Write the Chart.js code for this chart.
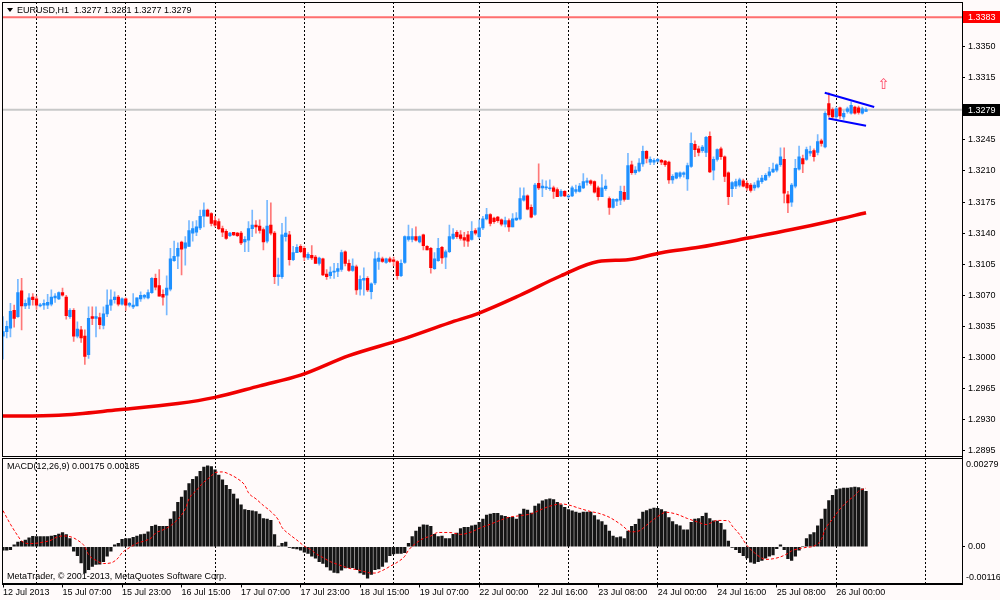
<!DOCTYPE html>
<html>
<head>
<meta charset="utf-8">
<script src="https://cdn.jsdelivr.net/npm/chart.js@4.4.1/dist/chart.umd.min.js"></script>
<style>
  html, body { margin: 0; padding: 0; background: #fffafa; }
  #wrap { width: 1000px; height: 600px; }
</style>
</head>
<body>
<div id="wrap"><canvas id="chart" width="1000" height="600"></canvas></div>
<script>
// EURUSD H1, 12 Jul 15:00 .. 26 Jul 08:00 2013, one entry per hourly bar
const symbol = 'EURUSD,H1';
const timeLabels = ['12 Jul 2013', '15 Jul 07:00', '15 Jul 23:00', '16 Jul 15:00', '17 Jul 07:00',
  '17 Jul 23:00', '18 Jul 15:00', '19 Jul 07:00', '22 Jul 00:00', '22 Jul 16:00', '23 Jul 08:00',
  '24 Jul 00:00', '24 Jul 16:00', '25 Jul 08:00', '26 Jul 00:00'];
const labelStep = 16; // one time label every 16 bars
const daySeparators = [9, 33, 57, 81, 105, 128, 152, 176, 200, 224, 248]; // bars that open a new day

const opens = [
  1.3024,1.3029,1.3033,1.3053,1.3046,1.3075,1.3058,1.3059,1.3068,1.3066,
  1.3058,1.3059,1.3059,1.3060,1.3067,1.3066,1.3073,1.3068,1.3046,1.3053,
  1.3024,1.3031,1.3024,1.3003,1.3046,1.3044,1.3045,1.3036,1.3049,1.3059,
  1.3065,1.3068,1.3060,1.3066,1.3059,1.3057,1.3058,1.3066,1.3068,1.3067,
  1.3073,1.3089,1.3081,1.3071,1.3070,1.3077,1.3109,1.3114,1.3130,1.3123,
  1.3125,1.3140,1.3141,1.3146,1.3159,1.3166,1.3162,1.3154,1.3153,1.3145,
  1.3142,1.3137,1.3141,1.3140,1.3140,1.3130,1.3132,1.3145,1.3149,1.3148,
  1.3144,1.3131,1.3149,1.3140,1.3091,1.3091,1.3136,1.3138,1.3110,1.3118,
  1.3125,1.3123,1.3112,1.3115,1.3113,1.3106,1.3111,1.3094,1.3092,1.3096,
  1.3097,1.3099,1.3119,1.3106,1.3098,1.3102,1.3077,1.3087,1.3089,1.3074,
  1.3084,1.3108,1.3111,1.3107,1.3111,1.3110,1.3108,1.3092,1.3107,1.3133,
  1.3133,1.3136,1.3130,1.3138,1.3125,1.3123,1.3100,1.3109,1.3124,1.3113,
  1.3119,1.3134,1.3141,1.3138,1.3135,1.3138,1.3133,1.3143,1.3136,1.3146,
  1.3156,1.3161,1.3157,1.3158,1.3155,1.3150,1.3154,1.3147,1.3155,1.3156,
  1.3177,1.3182,1.3169,1.3161,1.3196,1.3191,1.3191,1.3190,1.3191,1.3189,
  1.3182,1.3187,1.3181,1.3182,1.3187,1.3187,1.3191,1.3197,1.3199,1.3198,
  1.3191,1.3181,1.3190,1.3179,1.3169,1.3176,1.3177,1.3186,1.3178,1.3217,
  1.3208,1.3210,1.3218,1.3232,1.3220,1.3220,1.3221,1.3222,1.3221,1.3220,
  1.3200,1.3202,1.3204,1.3206,1.3201,1.3215,1.3240,1.3235,1.3233,1.3231,
  1.3249,1.3211,1.3223,1.3235,1.3226,1.3208,1.3190,1.3193,1.3194,1.3199,
  1.3196,1.3194,1.3191,1.3192,1.3198,1.3200,1.3205,1.3209,1.3211,1.3217,
  1.3223,1.3183,1.3175,1.3193,1.3212,1.3224,1.3223,1.3230,1.3233,1.3231,
  1.3244,1.3237,1.3286,1.3279,1.3271,1.3281,1.3271,1.3277,1.3275,1.3282,
  1.3281,1.3275,1.3277];
const highs = [
  1.3046,1.3041,1.3061,1.3059,1.3088,1.3089,1.3065,1.3072,1.3072,1.3069,
  1.3061,1.3065,1.3071,1.3076,1.3072,1.3074,1.3078,1.3070,1.3055,1.3055,
  1.3040,1.3035,1.3031,1.3057,1.3057,1.3057,1.3050,1.3057,1.3076,1.3076,
  1.3074,1.3070,1.3067,1.3067,1.3062,1.3072,1.3067,1.3074,1.3071,1.3076,
  1.3090,1.3094,1.3099,1.3076,1.3092,1.3123,1.3131,1.3129,1.3131,1.3136,
  1.3154,1.3153,1.3154,1.3166,1.3174,1.3167,1.3163,1.3159,1.3156,1.3148,
  1.3144,1.3141,1.3141,1.3141,1.3142,1.3136,1.3153,1.3166,1.3154,1.3155,
  1.3146,1.3177,1.3174,1.3142,1.3112,1.3151,1.3158,1.3142,1.3125,1.3127,
  1.3127,1.3125,1.3118,1.3126,1.3115,1.3113,1.3112,1.3099,1.3102,1.3106,
  1.3106,1.3121,1.3120,1.3110,1.3111,1.3104,1.3092,1.3101,1.3091,1.3084,
  1.3119,1.3118,1.3113,1.3112,1.3113,1.3113,1.3109,1.3110,1.3137,1.3149,
  1.3145,1.3147,1.3137,1.3139,1.3126,1.3124,1.3118,1.3134,1.3125,1.3121,
  1.3149,1.3145,1.3143,1.3143,1.3141,1.3142,1.3153,1.3145,1.3155,1.3159,
  1.3168,1.3162,1.3158,1.3159,1.3156,1.3158,1.3156,1.3162,1.3163,1.3191,
  1.3191,1.3183,1.3172,1.3196,1.3218,1.3200,1.3199,1.3200,1.3193,1.3191,
  1.3189,1.3188,1.3183,1.3193,1.3194,1.3196,1.3207,1.3202,1.3200,1.3199,
  1.3193,1.3206,1.3200,1.3181,1.3179,1.3179,1.3193,1.3193,1.3230,1.3221,
  1.3215,1.3224,1.3238,1.3233,1.3226,1.3224,1.3224,1.3223,1.3222,1.3221,
  1.3206,1.3208,1.3209,1.3209,1.3219,1.3253,1.3244,1.3238,1.3239,1.3249,
  1.3254,1.3226,1.3235,1.3237,1.3227,1.3209,1.3198,1.3201,1.3202,1.3201,
  1.3199,1.3196,1.3197,1.3202,1.3205,1.3207,1.3214,1.3219,1.3218,1.3236,
  1.3236,1.3187,1.3196,1.3223,1.3238,1.3228,1.3237,1.3238,1.3235,1.3251,
  1.3246,1.3277,1.3298,1.3281,1.3282,1.3282,1.3278,1.3282,1.3288,1.3283,
  1.3283,1.3282,1.3281];
const lows = [
  1.2998,1.3022,1.3023,1.3034,1.3045,1.3031,1.3055,1.3055,1.3059,1.3054,
  1.3057,1.3054,1.3055,1.3058,1.3062,1.3065,1.3069,1.3043,1.3044,1.3018,
  1.3022,1.3017,1.2992,1.2999,1.3037,1.3023,1.3032,1.3032,1.3046,1.3053,
  1.3061,1.3058,1.3059,1.3053,1.3057,1.3055,1.3058,1.3063,1.3066,1.3066,
  1.3072,1.3076,1.3069,1.3059,1.3048,1.3075,1.3108,1.3100,1.3093,1.3104,
  1.3125,1.3131,1.3137,1.3144,1.3147,1.3159,1.3148,1.3147,1.3144,1.3136,
  1.3133,1.3136,1.3137,1.3136,1.3127,1.3119,1.3119,1.3136,1.3140,1.3140,
  1.3121,1.3129,1.3138,1.3083,1.3081,1.3089,1.3131,1.3104,1.3109,1.3118,
  1.3118,1.3109,1.3110,1.3110,1.3106,1.3104,1.3092,1.3088,1.3089,1.3089,
  1.3091,1.3097,1.3103,1.3097,1.3097,1.3071,1.3070,1.3070,1.3074,1.3066,
  1.3082,1.3099,1.3107,1.3106,1.3107,1.3103,1.3088,1.3091,1.3106,1.3131,
  1.3130,1.3131,1.3129,1.3121,1.3121,1.3095,1.3099,1.3108,1.3106,1.3100,
  1.3118,1.3133,1.3134,1.3132,1.3125,1.3125,1.3132,1.3138,1.3134,1.3144,
  1.3155,1.3148,1.3151,1.3152,1.3148,1.3147,1.3142,1.3147,1.3154,1.3155,
  1.3176,1.3166,1.3157,1.3160,1.3189,1.3181,1.3189,1.3188,1.3179,1.3181,
  1.3181,1.3181,1.3179,1.3181,1.3185,1.3186,1.3190,1.3194,1.3194,1.3185,
  1.3177,1.3181,1.3188,1.3161,1.3168,1.3171,1.3172,1.3176,1.3178,1.3206,
  1.3206,1.3209,1.3215,1.3219,1.3217,1.3217,1.3220,1.3217,1.3215,1.3196,
  1.3196,1.3201,1.3202,1.3203,1.3188,1.3214,1.3226,1.3227,1.3231,1.3226,
  1.3208,1.3200,1.3221,1.3223,1.3198,1.3172,1.3181,1.3190,1.3192,1.3192,
  1.3188,1.3186,1.3188,1.3191,1.3196,1.3199,1.3203,1.3208,1.3209,1.3215,
  1.3174,1.3163,1.3170,1.3191,1.3211,1.3208,1.3222,1.3227,1.3221,1.3228,
  1.3238,1.3236,1.3271,1.3269,1.3269,1.3269,1.3268,1.3275,1.3274,1.3274,
  1.3274,1.3274,1.3277];
const closes = [
  1.3029,1.3035,1.3052,1.3044,1.3073,1.3058,1.3061,1.3067,1.3065,1.3059,
  1.3059,1.3061,1.3062,1.3068,1.3069,1.3073,1.3070,1.3047,1.3053,1.3024,
  1.3032,1.3022,1.3001,1.3044,1.3044,1.3046,1.3037,1.3049,1.3059,1.3065,
  1.3068,1.3060,1.3066,1.3059,1.3061,1.3059,1.3067,1.3070,1.3070,1.3073,
  1.3089,1.3079,1.3069,1.3068,1.3078,1.3111,1.3114,1.3123,1.3122,1.3129,
  1.3143,1.3145,1.3147,1.3159,1.3166,1.3159,1.3151,1.3149,1.3145,1.3141,
  1.3134,1.3140,1.3138,1.3137,1.3129,1.3133,1.3145,1.3149,1.3147,1.3143,
  1.3130,1.3148,1.3140,1.3091,1.3093,1.3138,1.3140,1.3110,1.3118,1.3124,
  1.3119,1.3113,1.3116,1.3112,1.3106,1.3112,1.3093,1.3091,1.3096,1.3097,
  1.3100,1.3118,1.3106,1.3098,1.3103,1.3076,1.3088,1.3089,1.3076,1.3083,
  1.3111,1.3112,1.3108,1.3111,1.3108,1.3108,1.3092,1.3106,1.3136,1.3136,
  1.3136,1.3132,1.3136,1.3126,1.3121,1.3101,1.3111,1.3123,1.3112,1.3119,
  1.3136,1.3139,1.3136,1.3134,1.3132,1.3131,1.3142,1.3140,1.3146,1.3156,
  1.3161,1.3151,1.3153,1.3154,1.3150,1.3154,1.3147,1.3156,1.3157,1.3179,
  1.3182,1.3167,1.3158,1.3194,1.3191,1.3193,1.3192,1.3191,1.3187,1.3181,
  1.3187,1.3182,1.3182,1.3191,1.3189,1.3193,1.3198,1.3199,1.3196,1.3186,
  1.3181,1.3191,1.3193,1.3169,1.3178,1.3178,1.3187,1.3178,1.3216,1.3208,
  1.3211,1.3219,1.3232,1.3224,1.3223,1.3222,1.3223,1.3220,1.3217,1.3200,
  1.3204,1.3208,1.3208,1.3208,1.3216,1.3241,1.3234,1.3231,1.3237,1.3248,
  1.3209,1.3223,1.3234,1.3226,1.3204,1.3181,1.3197,1.3198,1.3200,1.3193,
  1.3191,1.3188,1.3194,1.3199,1.3202,1.3205,1.3209,1.3212,1.3217,1.3226,
  1.3185,1.3174,1.3194,1.3213,1.3226,1.3218,1.3234,1.3232,1.3226,1.3243,
  1.3241,1.3275,1.3273,1.3271,1.3280,1.3272,1.3275,1.3280,1.3284,1.3275,
  1.3276,1.3280,1.3279];

// slow moving average, read at a few bars
const maBars = [0, 15, 31, 47, 57, 69, 80, 93, 107, 120, 128, 139, 150, 160, 168, 177, 187, 201, 212, 223, 232];
const maValues = [1.2934, 1.2935, 1.2941, 1.2948, 1.2955, 1.2968, 1.2980, 1.3002, 1.3020, 1.3039, 1.3050,
  1.3070, 1.3092, 1.3108, 1.3110, 1.3118, 1.3124, 1.3135, 1.3144, 1.3154, 1.3163];

// MACD(12,26,9) histogram, one per bar
const macdHist = [
  -0.00011,-0.00011,-0.00009,0.00006,0.00015,0.00017,0.00021,0.00028,0.00033,0.00032,
  0.00032,0.00032,0.00032,0.00034,0.00036,0.00040,0.00045,0.00038,0.00026,-0.00014,
  -0.00028,-0.00051,-0.00083,-0.00072,-0.00062,-0.00056,-0.00055,-0.00047,-0.00030,-0.00014,
  0.00006,0.00011,0.00023,0.00026,0.00026,0.00030,0.00034,0.00038,0.00040,0.00047,
  0.00064,0.00068,0.00064,0.00064,0.00064,0.00087,0.00111,0.00140,0.00157,0.00177,
  0.00199,0.00213,0.00221,0.00238,0.00251,0.00255,0.00253,0.00243,0.00226,0.00211,
  0.00194,0.00181,0.00166,0.00151,0.00132,0.00117,0.00115,0.00113,0.00111,0.00103,
  0.00089,0.00087,0.00083,0.00038,0.00002,0.00011,0.00015,-0.00002,-0.00005,-0.00007,
  -0.00011,-0.00017,-0.00021,-0.00030,-0.00036,-0.00047,-0.00053,-0.00064,-0.00074,-0.00081,
  -0.00083,-0.00074,-0.00067,-0.00066,-0.00066,-0.00072,-0.00083,-0.00087,-0.00099,-0.00087,
  -0.00072,-0.00070,-0.00062,-0.00049,-0.00028,-0.00023,-0.00021,-0.00021,-0.00019,0.00011,
  0.00032,0.00049,0.00062,0.00069,0.00068,0.00064,0.00039,0.00032,0.00034,0.00026,
  0.00026,0.00039,0.00043,0.00057,0.00061,0.00061,0.00066,0.00068,0.00077,0.00087,
  0.00100,0.00103,0.00105,0.00105,0.00098,0.00096,0.00093,0.00093,0.00087,0.00103,
  0.00119,0.00116,0.00106,0.00128,0.00135,0.00145,0.00149,0.00151,0.00149,0.00140,
  0.00132,0.00124,0.00117,0.00113,0.00109,0.00106,0.00109,0.00109,0.00109,0.00098,
  0.00085,0.00079,0.00068,0.00049,0.00034,0.00029,0.00031,0.00026,0.00049,0.00064,
  0.00071,0.00087,0.00109,0.00114,0.00119,0.00122,0.00121,0.00117,0.00111,0.00092,
  0.00079,0.00070,0.00066,0.00053,0.00053,0.00077,0.00087,0.00089,0.00096,0.00106,
  0.00089,0.00082,0.00081,0.00074,0.00053,0.00018,-0.00002,-0.00009,-0.00019,-0.00028,
  -0.00035,-0.00049,-0.00053,-0.00047,-0.00043,-0.00036,-0.00030,-0.00026,-0.00006,0.00006,
  -0.00009,-0.00038,-0.00043,-0.00030,-0.00011,0.00000,0.00026,0.00038,0.00045,0.00066,
  0.00087,0.00119,0.00146,0.00162,0.00180,0.00183,0.00185,0.00185,0.00187,0.00188,
  0.00187,0.00183,0.00175];
const signalBars = [0,2,4,5,7,9,11,13,14,16,18,20,22,23,25,27,29,31,32,34,36,38,40,41,43,45,47,49,50,52,
  54,56,57,59,61,63,65,66,68,70,72,74,75,77,79,81,83,84,86,88,90,92,93,95,97,99,100,102,104,106,
  108,109,111,113,115,117,120,123,126,128,131,134,136,139,142,144,147,150,152,155,158,160,163,166,169,171,173,175,177,178,
  181,184,187,189,192,195,196,198,200,202,204,205,207,209,211,212,214,216,218,220,221,223,225,227,229,230,232];
const signalValues = [0.00114,0.00071,0.00034,0.00018,0.00010,0.00011,0.00015,0.00021,0.00028,0.00034,
  0.00032,0.00021,0.00000,-0.00025,-0.00043,-0.00053,-0.00051,-0.00035,-0.00019,-0.00003,
  0.00011,0.00018,0.00029,0.00043,0.00053,0.00066,0.00087,0.00119,0.00151,0.00178,
  0.00204,0.00223,0.00234,0.00236,0.00228,0.00215,0.00194,0.00170,0.00151,0.00130,
  0.00111,0.00085,0.00061,0.00039,0.00021,0.00002,-0.00011,-0.00021,-0.00034,-0.00047,
  -0.00056,-0.00064,-0.00068,-0.00072,-0.00078,-0.00083,-0.00083,-0.00075,-0.00062,-0.00049,
  -0.00030,-0.00011,0.00011,0.00026,0.00034,0.00045,0.00045,0.00039,0.00047,0.00058,
  0.00071,0.00085,0.00093,0.00098,0.00104,0.00114,0.00128,0.00135,0.00132,0.00121,
  0.00111,0.00106,0.00093,0.00071,0.00047,0.00050,0.00068,0.00087,0.00103,0.00109,
  0.00103,0.00089,0.00077,0.00070,0.00083,0.00082,0.00066,0.00039,0.00004,-0.00019,
  -0.00036,-0.00040,-0.00038,-0.00032,-0.00021,-0.00013,-0.00006,-0.00002,0.00002,0.00023,
  0.00055,0.00087,0.00119,0.00143,0.00162,0.00175,0.00185];

const priceTicks = [1.2895, 1.2930, 1.2965, 1.3000, 1.3035, 1.3070, 1.3105, 1.3140, 1.3175, 1.3210,
  1.3245, 1.3280, 1.3315, 1.3350];
const alertLevel = 1.3383;
const bidLevel = 1.3279;
// flag drawn by hand on the chart: [bar, price] ends
const flagUpperBars = [220.9, 234.2];
const flagUpperValues = [1.3298, 1.3282];
const flagLowerBars = [221.9, 232];
const flagLowerValues = [1.3269, 1.3261];
const arrowBar = 236.8;
const arrowPrice = 1.3307;

const barRange = [-0.27, 257.8];
const priceRange = [1.28864, 1.34003];
const macdRange = [-0.00116, 0.00279];

const FONT = 'Liberation Sans';
const upBody = 'rgb(30,144,255)', upWick = 'rgb(120,185,255)';
const downBody = 'rgb(255,0,0)', downWick = 'rgb(255,120,120)';

const isUp = i => closes[i] >= opens[i];

const wickData = opens.map((o, i) => ({ x: i, y: [lows[i], highs[i]] }));
const bodyData = opens.map((o, i) => ({ x: i, y: [o, closes[i]] }));

const overlay = {
  id: 'overlay',
  afterDraw(chart) {
    const { ctx, chartArea: a, scales } = chart;
    const yP = scales.yPrice, yM = scales.yMacd, xs = scales.x;
    ctx.save();

    // panel frames
    const macdTop = Math.round(yM.top);
    const mainBottom = macdTop - 2;
    ctx.strokeStyle = '#000';
    ctx.lineWidth = 1;
    ctx.fillStyle = '#fffafa';
    ctx.fillRect(a.left + 1, mainBottom + 1, a.right - a.left - 1, 1);
    ctx.strokeRect(a.left + 0.5, a.top + 0.5, a.right - a.left, mainBottom - a.top);
    ctx.strokeRect(a.left + 0.5, macdTop + 0.5, a.right - a.left, Math.round(a.bottom) - macdTop);

    // price boxes on the axis
    const box = (value, bg) => {
      const y = Math.round(yP.getPixelForValue(value));
      ctx.fillStyle = bg;
      ctx.fillRect(a.right + 1, y - 6, 38, 12);
      ctx.fillStyle = '#fff';
      ctx.font = `9px "${FONT}"`;
      ctx.textBaseline = 'middle';
      ctx.textAlign = 'left';
      ctx.fillText(value.toFixed(4), a.right + 6, y + 0.5);
    };
    box(alertLevel, 'rgb(255,0,0)');
    box(bidLevel, '#000');

    // MACD scale extremes
    ctx.fillStyle = '#000';
    ctx.font = `9px "${FONT}"`;
    ctx.textAlign = 'left';
    ctx.textBaseline = 'top';
    ctx.fillText(macdRange[1].toFixed(5), a.right + 4, macdTop + 2);
    ctx.textBaseline = 'bottom';
    ctx.fillText(macdRange[0].toFixed(5), a.right + 4, a.bottom - 1);

    // header
    const last = opens.length - 1;
    ctx.beginPath();
    ctx.moveTo(7, 8); ctx.lineTo(13, 8); ctx.lineTo(10, 12); ctx.closePath();
    ctx.fill();
    ctx.textBaseline = 'middle';
    ctx.fillText(`${symbol}  ${opens[last].toFixed(4)} ${highs[last].toFixed(4)} ${lows[last].toFixed(4)} ${closes[last].toFixed(4)}`, 17, 10.5);

    ctx.fillText(`MACD(12,26,9) ${macdHist[last].toFixed(5)} ${signalValues[signalValues.length - 1].toFixed(5)}`, 7, macdTop + 9);
    ctx.fillText('MetaTrader, \u00a9 2001-2013, MetaQuotes Software Corp.', 7, a.bottom - 7);

    // arrow object
    ctx.fillStyle = 'rgb(255,70,100)';
    ctx.font = '15px "DejaVu Sans"';
    ctx.textAlign = 'center';
    ctx.fillText('\u21e7', xs.getPixelForValue(arrowBar), yP.getPixelForValue(arrowPrice));
    ctx.restore();
  }
};

const zeroPad = s => { s.paddingTop = 0; s.paddingBottom = 0; s.paddingLeft = 0; s.paddingRight = 0; };

new Chart(document.getElementById('chart'), {
  type: 'bar',
  data: {
    datasets: [
      { type: 'line', data: [{ x: barRange[0], y: alertLevel }, { x: barRange[1], y: alertLevel }],
        xAxisID: 'x', yAxisID: 'yPrice', borderColor: 'rgb(255,110,110)', borderWidth: 2, pointRadius: 0, order: 10 },
      { type: 'line', data: [{ x: barRange[0], y: bidLevel }, { x: barRange[1], y: bidLevel }],
        xAxisID: 'x', yAxisID: 'yPrice', borderColor: 'rgb(200,200,200)', borderWidth: 2, pointRadius: 0, order: 9 },
      { type: 'line', data: maBars.map((b, i) => ({ x: b, y: maValues[i] })),
        xAxisID: 'x', yAxisID: 'yPrice', borderColor: 'rgb(240,0,0)', borderWidth: 3.5, pointRadius: 0,
        cubicInterpolationMode: 'monotone', order: 8 },
      { type: 'bar', data: wickData, xAxisID: 'x', yAxisID: 'yPrice', grouped: false, barThickness: 1,
        backgroundColor: c => isUp(c.dataIndex) ? upWick : downWick, order: 6 },
      { type: 'bar', data: bodyData, xAxisID: 'x', yAxisID: 'yPrice', grouped: false, barThickness: 2.6,
        minBarLength: 1, backgroundColor: c => isUp(c.dataIndex) ? upBody : downBody, order: 5 },
      { type: 'line', data: flagUpperBars.map((b, i) => ({ x: b, y: flagUpperValues[i] })),
        xAxisID: 'x', yAxisID: 'yPrice', borderColor: 'rgb(0,0,255)', borderWidth: 2, pointRadius: 0, order: 1 },
      { type: 'line', data: flagLowerBars.map((b, i) => ({ x: b, y: flagLowerValues[i] })),
        xAxisID: 'x', yAxisID: 'yPrice', borderColor: 'rgb(0,0,255)', borderWidth: 2, pointRadius: 0, order: 1 },
      { type: 'bar', data: macdHist.map((v, i) => ({ x: i, y: v })), xAxisID: 'x', yAxisID: 'yMacd',
        grouped: false, barThickness: 2.6, backgroundColor: '#151515', order: 3 },
      { type: 'line', data: signalBars.map((b, i) => ({ x: b, y: signalValues[i] })),
        xAxisID: 'x', yAxisID: 'yMacd', borderColor: 'rgb(255,0,0)', borderWidth: 1, borderDash: [3, 2],
        pointRadius: 0, cubicInterpolationMode: 'monotone', order: 0 }
    ]
  },
  options: {
    responsive: false,
    animation: false,
    layout: { padding: { left: 2, top: 2, right: 0, bottom: 0 } },
    plugins: { legend: { display: false }, tooltip: { enabled: false } },
    scales: {
      x: {
        type: 'linear', position: 'bottom', min: barRange[0], max: barRange[1], offset: false,
        afterBuildTicks: s => { s.ticks = timeLabels.map((t, k) => ({ value: k * labelStep })); },
        afterFit: s => { s.height = 16.5; zeroPad(s); },
        ticks: { autoSkip: false, maxRotation: 0, minRotation: 0, align: 'start', padding: 0, color: '#000',
          font: { family: FONT, size: 9 }, callback: v => timeLabels[Math.round(v / labelStep)] },
        grid: { offset: false, drawOnChartArea: false, drawTicks: true, tickLength: 4, color: '#000' },
        border: { display: true, color: '#000' }
      },
      xDays: {
        type: 'linear', position: 'top', min: barRange[0], max: barRange[1], offset: false,
        afterBuildTicks: s => { s.ticks = daySeparators.map(v => ({ value: v })); },
        afterFit: s => { s.height = 0; zeroPad(s); },
        ticks: { display: false },
        grid: { offset: false, drawTicks: false, color: '#000', lineWidth: 1 },
        border: { display: false, dash: [2, 2] }
      },
      yPrice: {
        type: 'linear', position: 'right', stack: 'panes', stackWeight: 456.3,
        min: priceRange[0], max: priceRange[1],
        afterBuildTicks: s => { s.ticks = priceTicks.map(v => ({ value: v })); },
        afterFit: s => { s.width = 38; zeroPad(s); },
        ticks: { autoSkip: false, padding: 3, color: '#000', font: { family: FONT, size: 9 },
          callback: v => v.toFixed(4) },
        grid: { drawOnChartArea: false, tickLength: 3, color: '#000' },
        border: { display: true, color: '#000' }
      },
      yMacd: {
        type: 'linear', position: 'right', stack: 'panes', stackWeight: 125.2,
        min: macdRange[0], max: macdRange[1],
        afterBuildTicks: s => { s.ticks = [{ value: 0 }]; },
        afterFit: s => { s.width = 38; zeroPad(s); },
        ticks: { autoSkip: false, padding: 3, color: '#000', font: { family: FONT, size: 9 },
          callback: v => v.toFixed(2) },
        grid: { drawOnChartArea: false, tickLength: 3, color: '#000' },
        border: { display: true, color: '#000' }
      }
    }
  },
  plugins: [overlay]
});
</script>
</body>
</html>
